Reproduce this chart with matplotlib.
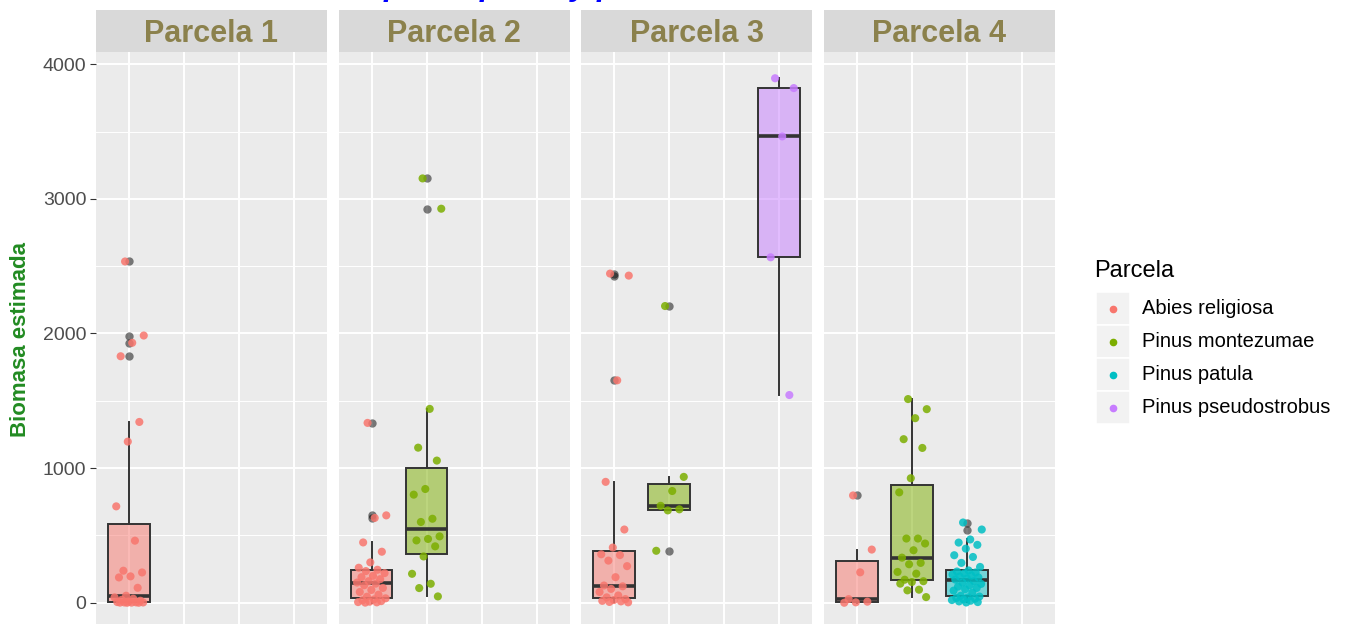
import numpy as np
import matplotlib
matplotlib.use("Agg")
import matplotlib.pyplot as plt
from matplotlib.patches import Rectangle
from matplotlib.lines import Line2D
from matplotlib.colors import to_rgba

plt.rcParams["font.family"] = ["Liberation Sans", "DejaVu Sans"]

# Species and plots
especies = ["Abies religiosa", "Pinus montezumae", "Pinus patula", "Pinus pseudostrobus"]
colores = ["#F8766D", "#7CAE00", "#00BFC4", "#C77CFF"]
parcelas = ["Parcela 1", "Parcela 2", "Parcela 3", "Parcela 4"]

# Biomass values
p1_abies = [2535, 1985, 1931, 1831, 1343, 1197, 716, 461, 238, 225, 196, 188, 111,
            52, 40, 30, 22, 15, 9, 5, 3, 2, 2, 1, 1, 0, 0]
p2_abies = [1336, 649, 630, 448, 379, 300, 260, 245, 235, 220, 200, 190, 175, 160,
            150, 142, 130, 110, 95, 80, 60, 45, 33, 25, 18, 12, 8, 5, 3, 1]
p2_montezumae = [3152, 2927, 1440, 1152, 1056, 845, 803, 624, 600, 493, 474, 463,
                 419, 344, 215, 141, 109, 47]
p3_abies = [2445, 2430, 1652, 898, 544, 410, 360, 354, 313, 272, 190, 128, 122, 103,
            80, 54, 40, 27, 20, 14, 10, 6, 3]
p3_montezumae = [2204, 935, 830, 720, 694, 686, 386]
p3_pseudostrobus = [3896, 3823, 3464, 2566, 1543]
p4_abies = [797, 395, 226, 27, 8, 3, 0]
p4_montezumae = [1513, 1438, 1371, 1215, 1150, 925, 820, 477, 477, 440, 390, 335,
                 296, 286, 229, 216, 171, 160, 154, 142, 97, 92, 42]
p4_patula = [596, 544, 470, 447, 430, 402, 353, 340, 296, 266, 240, 232, 225, 218,
             210, 202, 195, 188, 180, 172, 160, 150, 140, 130, 120, 110, 100, 90,
             75, 52, 46, 40, 35, 30, 25, 20, 15, 10, 5, 2]

datos = {
    "Parcela 1": {"Abies religiosa": p1_abies},
    "Parcela 2": {"Abies religiosa": p2_abies, "Pinus montezumae": p2_montezumae},
    "Parcela 3": {"Abies religiosa": p3_abies, "Pinus montezumae": p3_montezumae,
                  "Pinus pseudostrobus": p3_pseudostrobus},
    "Parcela 4": {"Abies religiosa": p4_abies, "Pinus montezumae": p4_montezumae,
                  "Pinus patula": p4_patula},
}

W, H = 1347, 624
fig = plt.figure(figsize=(W / 100, H / 100), dpi=100)


def fx(px):
    return px / W


def fy(py):
    return 1 - py / H


panel_left = [96, 338.5, 581, 824]
panel_w = 231
panel_top, panel_bottom = 52, 629
strip_top = 10

for i, parcela in enumerate(parcelas):
    x0 = panel_left[i]
    ax = fig.add_axes([fx(x0), fy(panel_bottom), panel_w / W, (panel_bottom - panel_top) / H])
    ax.set_facecolor("#EBEBEB")
    for s in ax.spines.values():
        s.set_visible(False)
    ax.set_xlim(0.4, 4.6)
    ax.set_ylim(-195, 4091)
    ax.set_xticks([1, 2, 3, 4])
    ax.set_yticks([0, 1000, 2000, 3000, 4000])
    ax.set_yticks([500, 1500, 2500, 3500], minor=True)
    ax.grid(which="major", color="white", linewidth=1.4)
    ax.grid(which="minor", axis="y", color="white", linewidth=0.7)
    ax.set_axisbelow(True)
    ax.tick_params(axis="x", length=0, labelbottom=False)
    ax.tick_params(axis="y", which="minor", length=0)
    if i == 0:
        ax.tick_params(axis="y", which="major", length=4, color="#333333",
                       labelsize=14, labelcolor="#4D4D4D", pad=3)
    else:
        ax.tick_params(axis="y", which="major", length=0, labelleft=False)

    for k, esp in enumerate(especies):
        if esp not in datos[parcela]:
            continue
        vals = np.array(datos[parcela][esp], dtype=float)
        col = colores[k]
        ax.boxplot(vals, positions=[k + 1], widths=0.75, patch_artist=True,
                   showcaps=False, whis=1.5,
                   boxprops=dict(facecolor=to_rgba(col, 0.5), edgecolor="#333333", linewidth=1.4),
                   whiskerprops=dict(color="#333333", linewidth=1.4),
                   medianprops=dict(color="#333333", linewidth=2.6),
                   flierprops=dict(marker="o", markerfacecolor="black", markeredgecolor="none",
                                   markersize=6, alpha=0.5),
                   zorder=2)
        # deterministic jitter
        n = len(vals)
        off = ((np.arange(n) * 0.618034 + 0.37) % 1 - 0.5) * 0.55
        ax.scatter(k + 1 + off, vals, s=34, color=col, alpha=0.85, edgecolors="none", zorder=3)

    # strip
    sax = fig.add_axes([fx(x0), fy(panel_top), panel_w / W, (panel_top - strip_top) / H])
    sax.set_facecolor("#D9D9D9")
    sax.set_xticks([])
    sax.set_yticks([])
    for s in sax.spines.values():
        s.set_visible(False)
    sax.text(0.5, 0.42, parcela, ha="center", va="center", fontsize=22, fontweight="bold",
             color="#8B814C", transform=sax.transAxes)

# y axis label
fig.text(fx(21), fy(340), "Biomasa estimada", rotation=90, ha="center", va="center",
         fontsize=16, fontweight="bold", color="#228B22")

# title (cut off at the top of the image, as in the original)
fig.text(fx(242), fy(-4.5), "Biomasa por especie y parcela", ha="left", va="baseline",
         fontsize=23, fontweight="bold", style="italic", color="#0000FF")

# legend
fig.text(fx(1094), fy(271), "Parcela", ha="left", va="center", fontsize=17, color="black")
key_top = 292
key_h = 33
for k, esp in enumerate(especies):
    y0 = key_top + k * key_h
    fig.add_artist(Rectangle((fx(1096), fy(y0 + key_h)), 34 / W, key_h / H,
                             transform=fig.transFigure, facecolor="#F2F2F2",
                             edgecolor="white", linewidth=1.2))
    fig.add_artist(Line2D([fx(1113)], [fy(y0 + key_h / 2)], transform=fig.transFigure,
                          marker="o", markersize=4.5, color=colores[k], linestyle="none"))
    fig.text(fx(1142), fy(y0 + key_h / 2), esp, ha="left", va="center", fontsize=14.5,
             color="black")

fig.savefig("out.png", dpi=100)
